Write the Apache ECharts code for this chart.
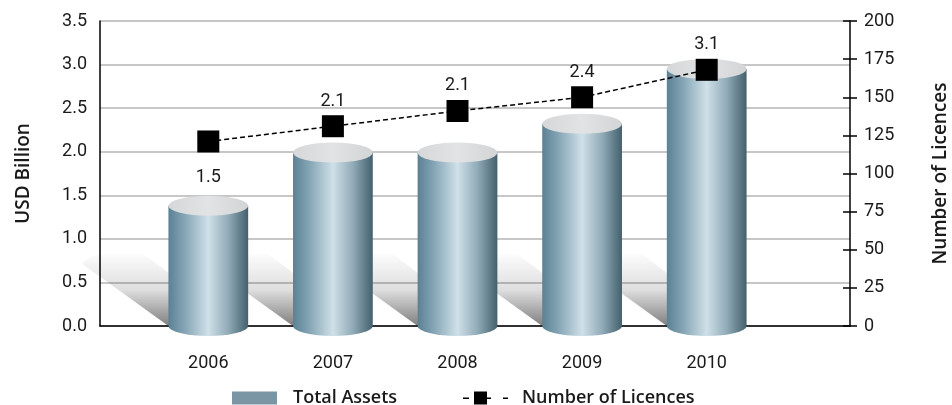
<!DOCTYPE html>
<html>
<head>
<meta charset="utf-8">
<script src="https://cdn.jsdelivr.net/npm/echarts@6/dist/echarts.min.js"></script>
<style>
  html, body { margin: 0; padding: 0; background: #fff; }
  #chart { width: 952px; height: 405px; }
</style>
</head>
<body>
<div id="chart"></div>
<script>
// values
const categories = ['2006', '2007', '2008', '2009', '2010']
const totalAssets = [1.38, 1.99, 1.99, 2.32, 2.95]   // USD billion (cylinder height)
const assetLabels = ['1.5', '2.1', '2.1', '2.4', '3.1']
const labelOnBar = [true, false, false, false, false]
const licences = [121, 131, 141, 150, 168]
const usdAxis = { min: 0, max: 3.5, interval: 0.5 }
const licAxis = { min: 0, max: 200, interval: 25 }

const tickFont = { fontFamily: 'Roboto', fontSize: 18, color: '#1a1a1a' }
const nameFont = { fontFamily: 'Open Sans', fontWeight: 600, fontSize: 19, color: '#1a1a1a' }

const chart = echarts.init(document.getElementById('chart'), null, { renderer: 'canvas' })

function ellipsePath(cx, cy, rx, ry) {
  return 'M' + (cx - rx) + ' ' + cy +
    ' A' + rx + ' ' + ry + ' 0 1 0 ' + (cx + rx) + ' ' + cy +
    ' A' + rx + ' ' + ry + ' 0 1 0 ' + (cx - rx) + ' ' + cy + ' Z'
}

const bodyGradient = () => new echarts.graphic.LinearGradient(0, 0, 1, 0, [
  { offset: 0, color: '#5b8194' },
  { offset: 0.2, color: '#84a4b4' },
  { offset: 0.5, color: '#cfe0e8' },
  { offset: 0.75, color: '#91abb8' },
  { offset: 1, color: '#44606d' }
])

function renderShadow(params, api) {
  const base = api.coord([api.value(0), 0])
  const w = api.size([1, 0])[0] * 0.64
  const xL = base[0] - w / 2
  const y0 = base[1]
  const path = 'M' + xL + ' ' + y0 +
    ' L' + (xL + 71) + ' ' + y0 +
    ' L' + (xL - 25) + ' ' + (y0 - 72) +
    ' L' + (xL - 60) + ' ' + (y0 - 72) +
    ' Q' + (xL - 80) + ' ' + (y0 - 72) + ' ' + (xL - 86) + ' ' + (y0 - 62) + ' Z'
  return {
    type: 'path',
    shape: { pathData: path },
    style: {
      fill: new echarts.graphic.LinearGradient(0, 0, 0, 1, [
        { offset: 0, color: 'rgba(0,0,0,0.01)' },
        { offset: 0.5, color: 'rgba(0,0,0,0.13)' },
        { offset: 1, color: 'rgba(0,0,0,0.5)' }
      ])
    }
  }
}

function renderCylinder(params, api) {
  const i = api.value(0)
  const top = api.coord([i, api.value(1)])
  const base = api.coord([i, 0])
  const w = api.size([1, 0])[0] * 0.64
  const rx = w / 2, ry = 10
  const cx = top[0]
  const x0 = cx - rx, x1 = cx + rx
  const body = 'M' + x0 + ' ' + top[1] + ' L' + x0 + ' ' + base[1] +
    ' A' + rx + ' ' + ry + ' 0 0 0 ' + x1 + ' ' + base[1] +
    ' L' + x1 + ' ' + top[1] + ' Z'
  const children = [
    { type: 'path', shape: { pathData: body }, style: { fill: bodyGradient() } },
    {
      type: 'path', shape: { pathData: ellipsePath(cx, top[1], rx, ry) },
      style: {
        fill: new echarts.graphic.LinearGradient(0, 0, 1, 0, [
          { offset: 0, color: '#d6d7d9' },
          { offset: 0.5, color: '#e2e3e5' },
          { offset: 1, color: '#d3d4d6' }
        ])
      }
    }
  ]
  if (labelOnBar[i]) {
    children.push({
      type: 'text',
      style: {
        x: cx, y: top[1] - ry - 18,
        text: assetLabels[i],
        align: 'center', verticalAlign: 'middle',
        font: '18px Roboto', fill: '#1a1a1a'
      }
    })
  }
  return { type: 'group', children: children }
}

// legend icon: dash, square, dash, dash
const licenceIcon = 'path://M0,6L6,6L6,7.5L0,7.5Z M11,0L24,0L24,13L11,13Z M24,6L28,6L28,7.5L24,7.5Z M40,6L45,6L45,7.5L40,7.5Z'

chart.setOption({
  animation: false,
  grid: [
    { left: 100, right: 102, top: 21, bottom: 79, outerBoundsMode: 'none' },
    { left: 146, right: 183, top: 21, bottom: 79, outerBoundsMode: 'none' }
  ],
  legend: [
    {
      data: [{ name: 'Total Assets', icon: 'rect', itemStyle: { color: '#7a95a3' } }],
      left: 232, top: 389, padding: 0, itemWidth: 45, itemHeight: 13,
      textStyle: Object.assign({ padding: [0, 0, 0, 11] }, nameFont, { fontSize: 18 })
    },
    {
      data: [{ name: 'Number of Licences', icon: licenceIcon, itemStyle: { color: '#000' } }],
      left: 463, top: 389, padding: 0, itemWidth: 45, itemHeight: 13,
      textStyle: Object.assign({ padding: [0, 0, 0, 9] }, nameFont, { fontSize: 18 })
    }
  ],
  xAxis: [
    {
      gridIndex: 0, type: 'category', data: categories,
      axisLine: { lineStyle: { color: '#000', width: 1.5 } },
      axisTick: { show: false }, axisLabel: { show: false }
    },
    {
      gridIndex: 1, type: 'category', data: categories,
      axisLine: { show: false }, axisTick: { show: false },
      axisLabel: Object.assign({ margin: 28 }, tickFont)
    }
  ],
  yAxis: [
    {
      gridIndex: 0, type: 'value', min: usdAxis.min, max: usdAxis.max, interval: usdAxis.interval,
      name: 'USD Billion', nameLocation: 'middle', nameGap: 67, nameRotate: 90,
      nameTextStyle: nameFont,
      axisLine: { show: true, lineStyle: { color: '#000', width: 1.5 } },
      axisTick: { show: false },
      axisLabel: Object.assign({ margin: 13, formatter: v => v.toFixed(1) }, tickFont),
      splitLine: { lineStyle: { color: '#b5b5b5', width: 1.5 } }
    },
    {
      gridIndex: 0, type: 'value', position: 'right',
      min: licAxis.min, max: licAxis.max, interval: licAxis.interval,
      name: 'Number of Licences', nameLocation: 'middle', nameGap: 81, nameRotate: 90,
      nameTextStyle: nameFont,
      axisLine: { show: true, lineStyle: { color: '#000', width: 1.5 } },
      axisTick: { show: true, length: 7, lineStyle: { color: '#000', width: 1.5 } },
      axisLabel: Object.assign({ margin: 14 }, tickFont),
      splitLine: { show: false }
    },
    {
      gridIndex: 0, type: 'value', position: 'right',
      min: licAxis.min, max: licAxis.max, interval: licAxis.interval,
      axisLine: { show: false },
      axisTick: { show: true, inside: true, length: 7, lineStyle: { color: '#000', width: 1.5 } },
      axisLabel: { show: false }, splitLine: { show: false }
    },
    {
      gridIndex: 1, type: 'value', min: usdAxis.min, max: usdAxis.max, interval: usdAxis.interval,
      show: false
    },
    {
      gridIndex: 1, type: 'value', min: licAxis.min, max: licAxis.max, interval: licAxis.interval,
      show: false
    }
  ],
  series: [
    {
      name: 'shadow', type: 'custom', xAxisIndex: 1, yAxisIndex: 3,
      clip: false, silent: true, z: 1,
      renderItem: renderShadow,
      data: totalAssets.map((v, i) => [i, v])
    },
    {
      name: 'Total Assets', type: 'custom', xAxisIndex: 1, yAxisIndex: 3,
      clip: false, z: 3,
      renderItem: renderCylinder,
      data: totalAssets.map((v, i) => [i, v])
    },
    {
      name: 'Number of Licences', type: 'line', xAxisIndex: 1, yAxisIndex: 4, z: 5,
      symbol: 'rect', symbolSize: 22,
      itemStyle: { color: '#000' },
      lineStyle: { color: '#000', width: 1.5, type: [5, 3] },
      label: Object.assign({ position: 'top', distance: 5 }, tickFont),
      data: licences.map((v, i) => ({
        value: v,
        label: { show: !labelOnBar[i], formatter: assetLabels[i] }
      }))
    }
  ]
})
</script>
</body>
</html>
